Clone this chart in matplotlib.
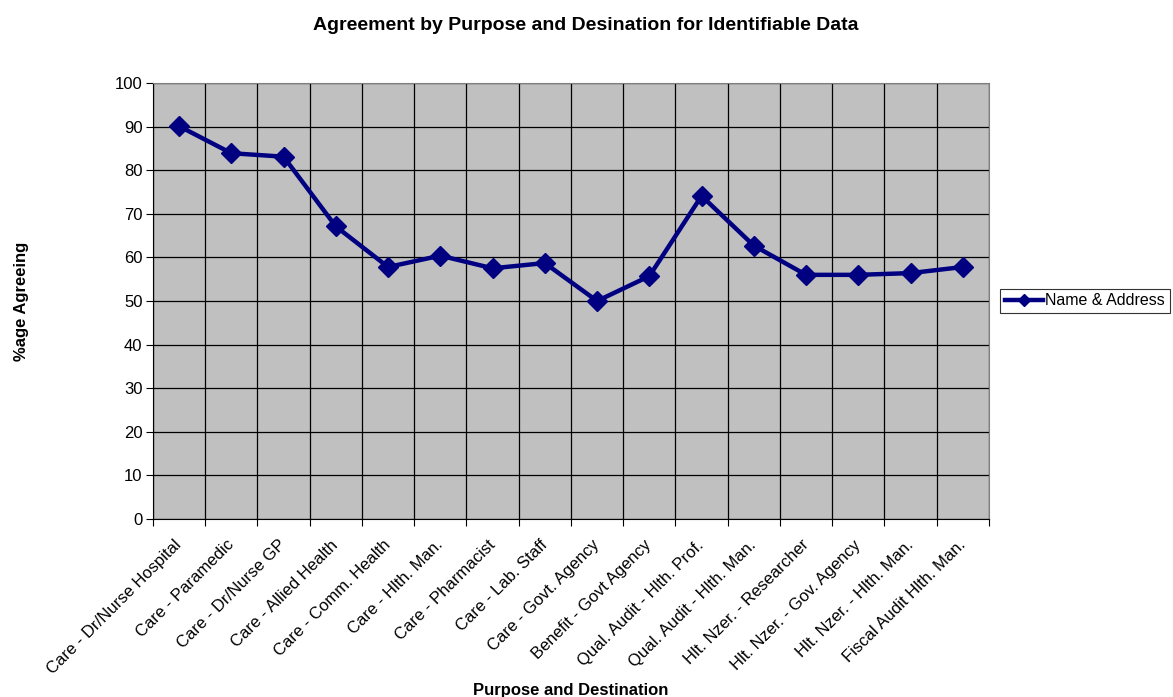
import matplotlib.pyplot as plt
import numpy as np

plt.rcParams['font.family'] = ['Liberation Sans', 'DejaVu Sans']

categories = ['Care - Dr/Nurse Hospital', 'Care - Paramedic', 'Care - Dr/Nurse GP',
              'Care - Allied Health', 'Care - Comm. Health', 'Care - Hlth. Man.',
              'Care - Pharmacist', 'Care - Lab. Staff', 'Care - Govt. Agency',
              'Benefit - Govt Agency', 'Qual. Audit - Hlth. Prof.',
              'Qual. Audit - Hlth. Man.', 'Hlt. Nzer. - Researcher',
              'Hlt. Nzer. - Gov. Agency', 'Hlt. Nzer. - Hlth. Man.',
              'Fiscal Audit Hlth. Man.']
name_address = [90.1, 83.9, 83.1, 67.1, 57.8, 60.4, 57.5, 58.7,
                50.0, 55.7, 74.1, 62.7, 56.0, 56.0, 56.4, 57.8]

fig = plt.figure(figsize=(11.73, 6.97), dpi=100)
ax = fig.add_axes([0.1304, 0.2554, 0.7127, 0.6255])
ax.set_facecolor('#c0c0c0')

n = len(categories)
x = np.arange(n) + 0.5
ax.plot(x, name_address, color='#000080', lw=3.2, marker='D', ms=10.5,
        label='Name & Address')

ax.set_xlim(0, n)
ax.set_ylim(0, 100)
ax.set_yticks(np.arange(0, 101, 10))
ax.set_xticks(np.arange(0, n + 1))
ax.set_xticklabels([])
ax.set_xticks(x, minor=True)
ax.set_xticklabels(categories, minor=True, rotation=45, ha='right', va='center',
                   rotation_mode='anchor', fontsize=12)
ax.tick_params(axis='x', which='minor', length=0, pad=17)
ax.tick_params(axis='both', which='major', direction='out', length=5,
               labelsize=12, color='black')
ax.tick_params(axis='y', pad=2.5)
ax.grid(True, which='major', color='black', lw=0.9)
ax.set_axisbelow(True)

for s in ['top', 'right']:
    ax.spines[s].set_color('#808080')
for s in ['left', 'bottom']:
    ax.spines[s].set_color('black')

# title centred on the whole figure, not the axes
ax.set_title('Agreement by Purpose and Desination for Identifiable Data',
             fontsize=14, fontweight='bold', pad=38.5, x=0.518)
ax.set_ylabel('%age Agreeing', fontsize=12, fontweight='bold')
ax.set_xlabel('Purpose and Destination', fontsize=12, fontweight='bold')
ax.xaxis.set_label_coords(0.5, -0.376)
ax.yaxis.set_label_coords(-0.148, 0.5)

leg = ax.legend(loc='center left', bbox_to_anchor=(1.013, 0.5), fontsize=11.5,
                frameon=True, fancybox=False, edgecolor='black', borderaxespad=0,
                handlelength=2.4, handletextpad=0.15, borderpad=0.3,
                markerscale=0.55)
leg.get_frame().set_linewidth(0.8)

fig.savefig('out.png', dpi=100)
